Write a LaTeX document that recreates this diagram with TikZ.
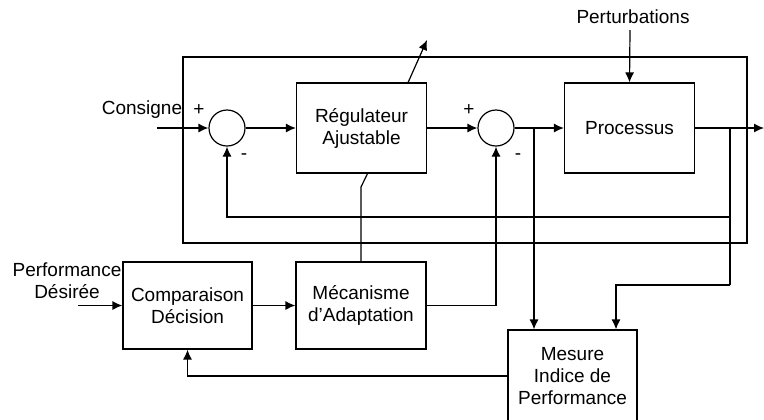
\documentclass[tikz,border=0pt]{standalone}
\usepackage{fontspec}
\setmainfont{Liberation Sans}
\usetikzlibrary{arrows.meta}

\tikzset{
  blk/.style={draw,line width=0.6pt,minimum width=65pt,minimum height=45pt,align=center,inner sep=0pt},
  sumc/.style={draw,circle,line width=0.6pt,minimum size=18pt,inner sep=0pt},
  lbl/.style={align=center,inner sep=0pt},
  sig/.style={line width=0.6pt,-{Latex[length=5pt,width=4.5pt]}},
  wire/.style={line width=0.6pt}
}

\begin{document}
\begin{tikzpicture}[x=0.5pt,y=-0.5pt,font=\fontsize{9.5}{11}\selectfont]
			\useasboundingbox (0,0) rectangle (764,419);
			% blocs
			\node[blk] (reg) at (361.5,128) {R\'egulateur\\Ajustable};
			\node[blk] (proc) at (629.5,128) {Processus};
			\node[blk,minimum height=43.5pt,minimum width=64.5pt] (cmp) at (187.5,305.5) {Comparaison\\D\'ecision};
			\node[blk,minimum height=43.5pt] (mech) at (361,305.5) {M\'ecanisme\\d'Adaptation};
			\node[blk,minimum height=46pt,minimum width=64.5pt] (mes) at (572.5,376) {Mesure\\Indice de\\Performance};
			\node[sumc] (s1) at (227,128) {};
			\node[sumc] (s2) at (496,128) {};
			% textes
			\node[lbl] (cons) at (142,110) {Consigne};
			\node[lbl] (pert) at (633,17) {Perturbations};
			\node[lbl] (perf) at (67,281) {Performance\\D\'esir\'ee};
			\node[lbl] (p1) at (199,110) {+};
			\node[lbl] (m1) at (244,157) {-};
			\node[lbl] (p2) at (469,110) {+};
			\node[lbl] (m2) at (518,157) {-};
			% cadre du systeme
			\draw[wire] (183,57) rectangle (747,243);
			% points
			\coordinate (cin) at (157,128);
			\coordinate (pin) at (78,305.5);
			\coordinate (ptop) at (630,30);
			\coordinate (out) at (764,128);
			\coordinate (adj) at (427,40);
			\coordinate (b1) at (534,128);
			\coordinate (b2) at (730,128);
			\coordinate (b3) at (730,217);
			\coordinate (b4) at (730,285);
			\coordinate (b5) at (616,285);
			\coordinate (k) at (361,187);
			% liaisons
			\draw[sig] (cin) -- (s1.west);
			\draw[sig] (s1.east) -- (reg.west);
			\draw[sig] (reg.east) -- (s2.west);
			\draw[sig] (s2.east) -- (proc.west);
			\draw[sig] (proc.east) -- (out);
			\draw[sig] (ptop) -- (proc.north);
			\draw[sig] ([xshift=-9.5pt]reg.north east) -- (adj);
			\draw[wire] ([xshift=3pt]reg.south) -- (k) -- (mech.north);
			\draw[sig] (b1) -- (b1 |- mes.north);
			\draw[wire] (b2) -- (b4);
			\draw[sig] (b4) -- (b5) -- (b5 |- mes.north);
			\draw[sig] (b3) -| (s1.south);
			\draw[sig] (mech.east) -| (s2.south);
			\draw[sig] (pin) -- (cmp.west);
			\draw[sig] (cmp.east) -- (mech.west);
			\draw[sig] (mes.west) -| (cmp.south);
		\end{tikzpicture}
\end{document}
